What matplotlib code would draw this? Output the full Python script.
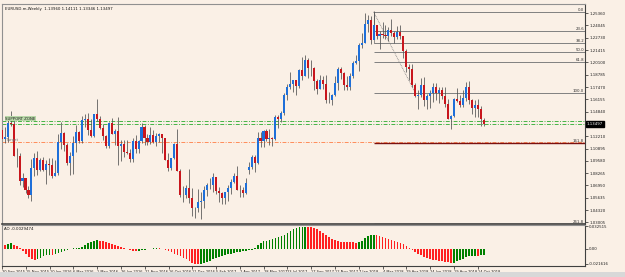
import matplotlib
matplotlib.use("Agg")
import matplotlib.pyplot as plt
import numpy as np

# ---------------- data ----------------
opens = [1.1290,1.1195,1.1210,1.1360,1.1350,1.1015,1.1005,1.0740,1.0770,1.0645,
         1.0590,1.0885,1.0990,1.0865,1.0965,1.0860,1.0920,1.0915,1.0795,1.0830,
         1.1155,1.1255,1.1130,1.0930,1.1005,1.1150,1.1270,1.1165,1.1390,1.1400,
         1.1285,1.1225,1.1455,1.1405,1.1310,1.1225,1.1115,1.1365,1.1250,1.1275,
         1.1115,1.1135,1.1050,1.1040,1.0975,1.1175,1.1085,1.1165,1.1325,1.1200,
         1.1155,1.1235,1.1155,1.1225,1.1240,1.1200,1.0970,1.0885,1.0985,1.1140,
         1.0850,1.0590,1.0590,1.0665,1.0560,1.0450,1.0455,1.0520,1.0530,1.0645,
         1.0705,1.0695,1.0785,1.0640,1.0615,1.0560,1.0620,1.0670,1.0735,1.0795,
         1.0650,1.0645,1.0615,1.0860,1.0895,1.0995,1.0935,1.1205,1.1165,1.1280,
         1.1195,1.1200,1.1195,1.1425,1.1400,1.1470,1.1665,1.1750,1.1775,1.1820,
         1.1760,1.1925,1.1860,1.2035,1.1945,1.1950,1.1815,1.1730,1.1820,1.1780,
         1.1605,1.1610,1.1665,1.1795,1.1935,1.1895,1.1770,1.1750,1.1860,1.2005,
         1.2030,1.2200,1.2220,1.2425,1.2460,1.2250,1.2405,1.2295,1.2315,1.2305,
         1.2290,1.2355,1.2325,1.2280,1.2330,1.2290,1.2130,1.1960,1.1940,1.1770,
         1.1655,1.1660,1.1770,1.1610,1.1655,1.1685,1.1745,1.1685,1.1720,1.1655,
         1.1570,1.1410,1.1440,1.1620,1.1600,1.1555,1.1625,1.1750,1.1605,1.1525,
         1.1560,1.1510,1.1396]
highs = [1.1300,1.1320,1.1390,1.1495,1.1390,1.1095,1.1045,1.0830,1.0760,1.0690,
         1.0980,1.1045,1.1060,1.0990,1.0995,1.0970,1.0985,1.0990,1.0965,1.1240,
         1.1375,1.1265,1.1145,1.1055,1.1220,1.1340,1.1275,1.1440,1.1455,1.1465,
         1.1400,1.1460,1.1615,1.1435,1.1350,1.1230,1.1375,1.1415,1.1300,1.1425,
         1.1185,1.1185,1.1185,1.1080,1.1200,1.1235,1.1180,1.1365,1.1340,1.1240,
         1.1325,1.1285,1.1255,1.1260,1.1250,1.1200,1.1040,1.0990,1.1145,1.1300,
         1.0870,1.0690,1.0700,1.0875,1.0670,1.0470,1.0655,1.0620,1.0685,1.0720,
         1.0775,1.0830,1.0785,1.0680,1.0620,1.0630,1.0700,1.0760,1.0830,1.0905,
         1.0695,1.0680,1.0775,1.0950,1.1020,1.1025,1.1265,1.1270,1.1285,1.1295,
         1.1295,1.1215,1.1445,1.1445,1.1490,1.1680,1.1775,1.1910,1.1825,1.1825,
         1.1940,1.2070,1.2090,1.2060,1.2035,1.1960,1.1835,1.1880,1.1860,1.1880,
         1.1690,1.1670,1.1860,1.1960,1.1960,1.1905,1.1865,1.1900,1.2025,1.2090,
         1.2215,1.2325,1.2535,1.2520,1.2505,1.2555,1.2415,1.2350,1.2445,1.2410,
         1.2390,1.2475,1.2345,1.2395,1.2415,1.2290,1.2150,1.1995,1.1995,1.1795,
         1.1720,1.1840,1.1850,1.1675,1.1720,1.1790,1.1790,1.1745,1.1750,1.1745,
         1.1620,1.1445,1.1625,1.1735,1.1660,1.1720,1.1800,1.1815,1.1620,1.1610,
         1.1620,1.1545,1.1411]
lows = [1.1106,1.1150,1.1160,1.1330,1.1010,1.0895,1.0705,1.0675,1.0615,1.0560,
        1.0525,1.0795,1.0805,1.0850,1.0850,1.0710,1.0805,1.0780,1.0800,1.0810,
        1.1090,1.1065,1.0915,1.0810,1.0820,1.1055,1.1145,1.1145,1.1325,1.1235,
        1.1215,1.1215,1.1380,1.1300,1.1185,1.1100,1.1095,1.1250,1.1130,1.0910,
        1.0955,1.1000,1.1030,1.0950,1.0950,1.1045,1.1045,1.1150,1.1125,1.1125,
        1.1140,1.1150,1.1120,1.1160,1.1045,1.0970,1.0850,1.0860,1.0975,1.0850,
        1.0570,1.0520,1.0565,1.0505,1.0365,1.0350,1.0410,1.0340,1.0455,1.0580,
        1.0655,1.0620,1.0600,1.0520,1.0495,1.0495,1.0525,1.0600,1.0720,1.0650,
        1.0570,1.0570,1.0605,1.0820,1.0875,1.0840,1.0925,1.1110,1.1110,1.1170,
        1.1130,1.1120,1.1185,1.1310,1.1370,1.1450,1.1610,1.1725,1.1690,1.1660,
        1.1740,1.1825,1.1860,1.1840,1.1860,1.1715,1.1670,1.1730,1.1730,1.1575,
        1.1575,1.1555,1.1650,1.1715,1.1830,1.1715,1.1715,1.1715,1.1845,1.1995,
        1.1915,1.2165,1.2215,1.2335,1.2205,1.2255,1.2260,1.2155,1.2275,1.2260,
        1.2240,1.2290,1.2215,1.2260,1.2265,1.2055,1.1910,1.1820,1.1750,1.1645,
        1.1510,1.1640,1.1540,1.1510,1.1525,1.1590,1.1610,1.1575,1.1615,1.1530,
        1.1405,1.1301,1.1430,1.1590,1.1530,1.1530,1.1600,1.1570,1.1460,1.1430,
        1.1430,1.1335,1.1335]
closes = [1.1195,1.1210,1.1360,1.1350,1.1015,1.1005,1.0740,1.0770,1.0645,1.0590,
          1.0885,1.0990,1.0865,1.0965,1.0860,1.0920,1.0915,1.0795,1.0830,1.1155,
          1.1255,1.1130,1.0930,1.1005,1.1150,1.1270,1.1165,1.1390,1.1400,1.1285,
          1.1225,1.1455,1.1405,1.1310,1.1225,1.1115,1.1365,1.1250,1.1275,1.1115,
          1.1135,1.1050,1.1040,1.0975,1.1175,1.1085,1.1165,1.1325,1.1200,1.1155,
          1.1235,1.1155,1.1225,1.1240,1.1200,1.0970,1.0885,1.0985,1.1140,1.0850,
          1.0590,1.0590,1.0665,1.0560,1.0450,1.0455,1.0520,1.0530,1.0645,1.0705,
          1.0695,1.0785,1.0640,1.0615,1.0560,1.0620,1.0670,1.0735,1.0795,1.0650,
          1.0645,1.0615,1.0725,1.0895,1.0995,1.0935,1.1205,1.1165,1.1280,1.1195,
          1.1200,1.1195,1.1425,1.1400,1.1470,1.1665,1.1750,1.1775,1.1820,1.1760,
          1.1925,1.1860,1.2035,1.1945,1.1950,1.1815,1.1730,1.1820,1.1780,1.1605,
          1.1610,1.1665,1.1795,1.1935,1.1895,1.1770,1.1750,1.1860,1.2005,1.2030,
          1.2200,1.2220,1.2425,1.2460,1.2250,1.2405,1.2295,1.2315,1.2305,1.2290,
          1.2355,1.2325,1.2280,1.2330,1.2290,1.2130,1.1960,1.1940,1.1770,1.1655,
          1.1660,1.1770,1.1610,1.1655,1.1685,1.1745,1.1685,1.1720,1.1655,1.1570,
          1.1410,1.1440,1.1620,1.1600,1.1555,1.1625,1.1750,1.1605,1.1525,1.1560,
          1.1510,1.1402,1.1350]

# Awesome Oscillator bars
ao = [15,12,15,17,13,8,2,-6,-15,-25,-30,-32,-30,-27,-22,-18,-17,-17,-15,-12,
      -8,-5,-3,-1,2,3,4,6,13,17,20,23,26,25,23,20,17,15,12,9,
      5,2,-1,-4,-6,-6,-5,-4,-3,-1,1,2,3,2,1,-2,-6,-10,-14,-17,
      -21,-26,-31,-36,-41,-45,-46,-45,-43,-39,-35,-30,-26,-23,-20,-18,-16,-14,-12,-9,
      -8,-7,-6,-4,-2,3,11,18,23,25,27,30,33,35,38,42,48,55,59,62,
      64,65,66,66,65,63,60,55,49,43,37,31,26,23,22,22,21,20,20,18,
      20,25,32,38,42,43,41,38,36,34,31,28,24,20,17,14,9,3,-2,-9,
      -14,-19,-24,-28,-31,-33,-34,-35,-36,-38,-40,-42,-41,-37,-33,-29,-25,-22,-21,-20,
      -20,-19,-18]
ao = [v * 0.00048 for v in ao]

date_labels = ["20 Sep 2015","15 Nov 2015","10 Jan 2016","6 Mar 2016","1 May 2016",
               "26 Jun 2016","21 Aug 2016","16 Oct 2016","11 Dec 2016","5 Feb 2017",
               "2 Apr 2017","28 May 2017","23 Jul 2017","17 Sep 2017","12 Nov 2017",
               "7 Jan 2018","4 Mar 2018","29 Apr 2018","24 Jun 2018","19 Aug 2018",
               "14 Oct 2018"]
date_positions = [0,8,16,24,32,40,48,56,64,72,80,88,96,104,112,120,128,136,144,152,160]

price_ticks = [1.25360,1.24045,1.22730,1.21415,1.20100,1.18785,1.17470,1.16155,
               1.14840,1.12210,1.10895,1.09580,1.08265,1.06950,1.05635,1.04320,1.03005]
current_price = 1.13497
title_text = "EURUSD.m,Weekly  1.13960 1.14111 1.13346 1.13497"
ao_label = "AO -0.0029474"
ao_tick_values = [0.032515, 0.0, -0.021616]
ao_tick_labels = ["0.032515", "0.00", "-0.021616"]

fib_start = 125
fib_high = 1.2550
fib_low = 1.1685
fib_levels = [0.0, 23.6, 38.2, 50.0, 61.8, 100.0, 161.8, 261.8]
fib_diag_end = 139

green_lines = [1.1384, 1.1352]
green_label = "SUPPORT ZONE"
orange_line = 1.1160
orange_label = "Target"

# ---------------- figure ----------------
W, H = 625, 277
BG = "#FAF0E6"
fig = plt.figure(figsize=(W/100, H/100), dpi=100, facecolor=BG)

def rect(x0, y0, x1, y1):
    return [x0/W, 1 - y1/H, (x1-x0)/W, (y1-y0)/H]

PX0, PXS = 1.7, 2.975
def px2i(px):
    return (px - PX0) / PXS

ax = fig.add_axes(rect(2, 4, 585, 224), facecolor=BG)
ax2 = fig.add_axes(rect(2, 225, 585, 266), facecolor=BG)
xl = (px2i(2), px2i(585))
P0, Y0, K = 1.2538, 13, 935.8
ax.set_xlim(*xl)
ax.set_ylim(P0 - (224 - Y0)/K, P0 - (4 - Y0)/K)

n = len(closes)
x = np.arange(n)
o = np.array(opens); c = np.array(closes); h = np.array(highs); l = np.array(lows)
up = c >= o
ax.vlines(x, l, h, color="#505050", lw=0.55, zorder=2)
body_bot = np.minimum(o, c)
body_h = np.maximum(np.abs(c - o), 0.0004)
colors = np.where(up, "#1E6FD9", "#C8161D")
ax.bar(x, body_h, bottom=body_bot, width=0.7, color=colors, edgecolor="none", zorder=3)

# horizontal lines
for g in green_lines:
    ax.axhline(g, color="#46B446", lw=0.7, ls=(0, (4, 1.5, 1, 1.5)), zorder=1)
ax.axhline(orange_line, color="#FF8C5A", lw=0.7, ls=(0, (4, 1.5, 1, 1.5)), zorder=1)
ax.text(xl[0] + 1.0, green_lines[0] + 0.0004, green_label, fontsize=2.8, color="#202020",
        ha="left", va="bottom", zorder=6,
        bbox=dict(boxstyle="square,pad=0.1", fc="#B8D8A8", ec="none"))
ax.text(xl[0] + 1.3, orange_line + 0.0004, orange_label, fontsize=2.8, color="#707070",
        ha="left", va="bottom", zorder=6)

# fibonacci
rng = fib_high - fib_low
for lev in fib_levels:
    yv = fib_high - rng * lev / 100.0
    col = "#808080"
    lw = 0.7
    if lev == 161.8:
        col = "#7A1010"; lw = 1.0
    if lev == 261.8:
        col = "#000000"; lw = 0.9
    ax.plot([fib_start, xl[1]], [yv, yv], color=col, lw=lw, zorder=1, solid_capstyle="butt")
    ax.text(xl[1] - 0.3, yv, f"{lev:.1f}", fontsize=2.8, color="#303030",
            ha="right", va="bottom", zorder=5)
ax.plot([fib_start, fib_diag_end], [fib_high, fib_low], color="#808080", lw=0.6,
        ls=(0, (1, 1)), zorder=1)
ax.plot([fib_start, fib_start], [fib_high, fib_high - rng*0.382], color="#808080", lw=0.6, zorder=1)

# axes styling
for a in (ax, ax2):
    for s in a.spines.values():
        s.set_color("#404040")
        s.set_linewidth(0.8)
    a.spines["left"].set_color("#909090")
    a.spines["top"].set_color("#909090")
ax.spines["bottom"].set_linewidth(1.2)

ax.yaxis.tick_right()
ax.set_yticks(price_ticks)
ax.set_yticklabels([f"{v:.5f}" for v in price_ticks])
ax.tick_params(axis="y", labelsize=2.8, length=2, width=0.5, pad=1, colors="#202020")
ax.set_xticks([])

ax.text(1.003, current_price, f"{current_price:.5f}", transform=ax.get_yaxis_transform(),
        fontsize=2.8, color="white", va="center", ha="left",
        bbox=dict(boxstyle="square,pad=0.25", fc="black", ec="black"), zorder=10, clip_on=False)

ax.text(0.006, 0.985, title_text, transform=ax.transAxes, fontsize=2.8, color="#101010",
        va="top", ha="left")

# AO panel
vals = np.array(ao)
ao_cols = ["#D01010"] + ["#008000" if vals[i] > vals[i-1] else "#FF2020" for i in range(1, n)]
ax2.bar(x, vals, width=0.55, color=ao_cols, edgecolor="none")
ax2.set_xlim(*xl)
ax2.set_ylim(-0.0245, 0.0343)
ax2.yaxis.tick_right()
ax2.set_yticks(ao_tick_values)
ax2.set_yticklabels(ao_tick_labels)
ax2.tick_params(axis="y", labelsize=2.8, length=2, width=0.5, pad=1, colors="#202020")
ax2.set_xticks(date_positions)
ax2.set_xticklabels(date_labels, ha="left")
ax2.tick_params(axis="x", labelsize=2.6, length=2, width=0.5, pad=1, colors="#202020")
ax2.text(0.004, 0.95, ao_label, transform=ax2.transAxes, fontsize=2.8, color="#101010",
         va="top", ha="left")

# bottom gray strip
fig.patches.append(plt.Rectangle((0, 0), 1, 5/H, transform=fig.transFigure,
                                 fc="#D8D8D8", ec="none", zorder=0))

fig.savefig("out.png", dpi=100, facecolor=BG)
